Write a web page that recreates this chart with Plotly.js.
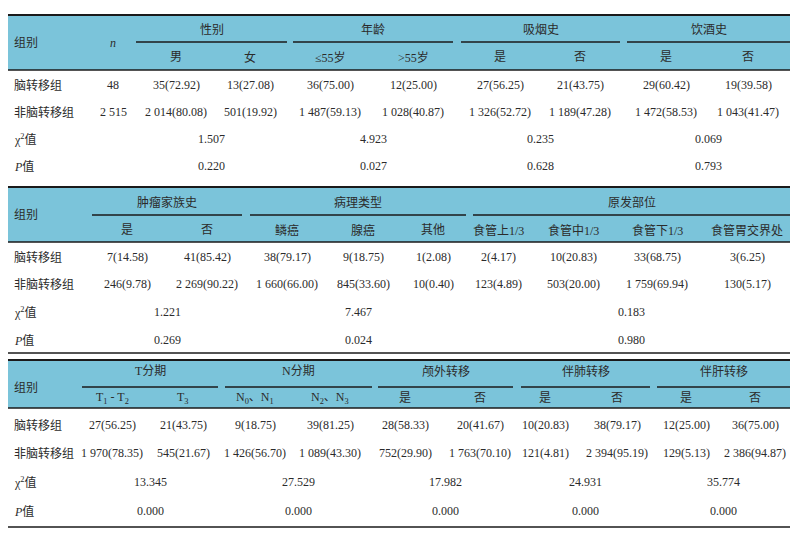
<!DOCTYPE html>
<html><head><meta charset="utf-8">
<script src="https://cdn.plot.ly/plotly-3.0.1.min.js"></script>
<style>body{margin:0;background:#fff}</style>
</head><body><div id="chart" style="width:799px;height:537px"></div>
<script>
// ---------------- DATA ----------------
const rowLabels = ['脑转移组', '非脑转移组', 'χ<sup>2</sup>值', '<i>P</i>值'];

const t1Groups = ['性别', '年龄', '吸烟史', '饮酒史'];
const t1Sub = ['男', '女', '≤55岁', '>55岁', '是', '否', '是', '否'];
const t1N = ['48', '2 515'];
const t1Brain = ['35(72.92)', '13(27.08)', '36(75.00)', '12(25.00)', '27(56.25)', '21(43.75)', '29(60.42)', '19(39.58)'];
const t1NonBrain = ['2 014(80.08)', '501(19.92)', '1 487(59.13)', '1 028(40.87)', '1 326(52.72)', '1 189(47.28)', '1 472(58.53)', '1 043(41.47)'];
const t1Chi = ['1.507', '4.923', '0.235', '0.069'];
const t1P = ['0.220', '0.027', '0.628', '0.793'];

const t2Groups = ['肿瘤家族史', '病理类型', '原发部位'];
const t2Sub = ['是', '否', '鳞癌', '腺癌', '其他', '食管上1/3', '食管中1/3', '食管下1/3', '食管胃交界处'];
const t2Brain = ['7(14.58)', '41(85.42)', '38(79.17)', '9(18.75)', '1(2.08)', '2(4.17)', '10(20.83)', '33(68.75)', '3(6.25)'];
const t2NonBrain = ['246(9.78)', '2 269(90.22)', '1 660(66.00)', '845(33.60)', '10(0.40)', '123(4.89)', '503(20.00)', '1 759(69.94)', '130(5.17)'];
const t2Chi = ['1.221', '7.467', '0.183'];
const t2P = ['0.269', '0.024', '0.980'];

const t3Groups = ['T分期', 'N分期', '颅外转移', '伴肺转移', '伴肝转移'];
const t3Sub = ['T<sub>1</sub> - T<sub>2</sub>', 'T<sub>3</sub>', 'N<sub>0</sub>、N<sub>1</sub>', 'N<sub>2</sub>、N<sub>3</sub>', '是', '否', '是', '否', '是', '否'];
const t3Brain = ['27(56.25)', '21(43.75)', '9(18.75)', '39(81.25)', '28(58.33)', '20(41.67)', '10(20.83)', '38(79.17)', '12(25.00)', '36(75.00)'];
const t3NonBrain = ['1 970(78.35)', '545(21.67)', '1 426(56.70)', '1 089(43.30)', '752(29.90)', '1 763(70.10)', '121(4.81)', '2 394(95.19)', '129(5.13)', '2 386(94.87)'];
const t3Chi = ['13.345', '27.529', '17.982', '24.931', '35.774'];
const t3P = ['0.000', '0.000', '0.000', '0.000', '0.000'];

// ---------------- LAYOUT CONFIG ----------------
const W = 799, H = 537;
const LEFT = 8, RIGHT = 790;
const BLUE = '#7bc4da';
const INK = '#2b2b2b';
const FONT = 'Liberation Serif, Noto Sans CJK SC, serif';
const FS = 12;

const tables = [
  {groups: t1Groups, sub: t1Sub, n: t1N, brain: t1Brain, non: t1NonBrain, chi: t1Chi, p: t1P,
   top: 15, subLine: 42, headEnd: 70, bottom: null, groupY: 30, subY: 57, labelY: 43,
   rows: [85, 112, 139, 166], nX: 113,
   spans: [[136, 287], [293, 453], [461, 620], [627, RIGHT]],
   subX: [176, 250, 330, 413, 500, 580, 666, 748]},
  {groups: t2Groups, sub: t2Sub, brain: t2Brain, non: t2NonBrain, chi: t2Chi, p: t2P,
   top: 187, subLine: 215, headEnd: 242, bottom: 353, groupY: 202, subY: 230, labelY: 215,
   rows: [257, 284, 312, 340],
   spans: [[92, 242], [250, 466], [473, RIGHT]],
   subX: [127, 207, 287, 363, 433, 498, 573, 657, 747]},
  {groups: t3Groups, sub: t3Sub, brain: t3Brain, non: t3NonBrain, chi: t3Chi, p: t3P,
   top: 360, subLine: 387, headEnd: 408, bottom: 527, groupY: 371, subY: 398, labelY: 388,
   rows: [425, 453, 482, 511],
   spans: [[82, 218], [225, 372], [378, 513], [521, 650], [657, RIGHT]],
   subX: [112, 183, 255, 330, 405, 480, 545, 617, 686, 755]}
];

const shapes = [], annotations = [];
function txt(x, y, text, anchor) {
  annotations.push({x: x, y: y, xref: 'x', yref: 'y', text: text, showarrow: false,
    xanchor: anchor || 'center', yanchor: 'middle',
    font: {family: FONT, size: FS, color: INK}});
}
function line(x0, y0, x1, y1, w) {
  shapes.push({type: 'line', xref: 'x', yref: 'y', x0: x0, y0: y0, x1: x1, y1: y1,
    line: {color: '#1a1a1a', width: w}});
}

tables.forEach(t => {
  shapes.push({type: 'rect', xref: 'x', yref: 'y', x0: LEFT, x1: RIGHT, y0: t.top, y1: t.headEnd,
    fillcolor: BLUE, line: {width: 0}, layer: 'below'});
  line(LEFT, t.top, RIGHT, t.top, 2.2);
  line(LEFT, t.headEnd, RIGHT, t.headEnd, 1.6);
  if (t.bottom) line(LEFT, t.bottom, RIGHT, t.bottom, 1.6);
  t.spans.forEach((s, i) => {
    line(s[0], t.subLine, s[1], t.subLine, 1.6);
    const c = (s[0] + s[1]) / 2;
    txt(c, t.groupY, t.groups[i]);
    txt(c, t.rows[2], t.chi[i]);
    txt(c, t.rows[3], t.p[i]);
  });
  txt(12, t.labelY, '组别', 'left');
  rowLabels.forEach((r, i) => txt(12, t.rows[i], r, 'left'));
  if (t.n) {
    txt(t.nX, t.labelY, '<i>n</i>');
    txt(t.nX, t.rows[0], t.n[0]);
    txt(t.nX, t.rows[1], t.n[1]);
  }
  t.sub.forEach((s, i) => {
    txt(t.subX[i], t.subY, s);
    txt(t.subX[i], t.rows[0], t.brain[i]);
    txt(t.subX[i], t.rows[1], t.non[i]);
  });
});

Plotly.newPlot('chart', [{x: [], y: [], type: 'scatter', hoverinfo: 'skip', showlegend: false}], {
  width: W, height: H,
  margin: {l: 0, r: 0, t: 0, b: 0},
  paper_bgcolor: '#ffffff', plot_bgcolor: '#ffffff',
  xaxis: {range: [0, W], visible: false, fixedrange: true},
  yaxis: {range: [H, 0], visible: false, fixedrange: true},
  shapes: shapes, annotations: annotations, showlegend: false
}, {staticPlot: true});
</script></body></html>
